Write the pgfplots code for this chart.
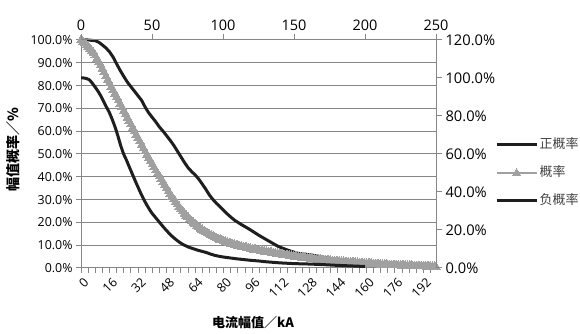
\documentclass[border=0pt]{standalone}
\usepackage{pgfplots}
\pgfplotsset{compat=1.18}
\usepackage{fontspec}
\setmainfont{Open Sans}
\newfontfamily\cjk{Noto Sans CJK SC}
\definecolor{axgray}{RGB}{134,134,134}
\definecolor{dk}{RGB}{30,30,30}
\definecolor{gr}{RGB}{160,160,160}
\begin{document}
\begin{tikzpicture}[x=1pt,y=1pt]
\useasboundingbox (0,0) rectangle (580,334);
\begin{axis}[
 at={(81pt,66pt)}, anchor=south west,
 scale only axis, width=355pt, height=228pt,
 xmin=0, xmax=199, ymin=0, ymax=1,
 axis x line*=bottom, axis y line*=left,
 axis line style={draw=axgray, line width=1pt, -},
 xtick={0,16,...,192},
 xticklabels={0,16,32,48,64,80,96,112,128,144,160,176,192},
 minor xtick={0,4,...,196},
 xticklabel style={rotate=45, anchor=north east, font=\fontsize{12.5}{14}\selectfont, inner sep=1pt, yshift=-3pt},
 ytick={0,0.1,0.2,0.3,0.4,0.5,0.6,0.7,0.8,0.9,1},
 yticklabels={0.0\%,10.0\%,20.0\%,30.0\%,40.0\%,50.0\%,60.0\%,70.0\%,80.0\%,90.0\%,100.0\%},
 yticklabel style={font=\fontsize{12.4}{14}\selectfont},
 ymajorgrids, major grid style={draw=axgray, line width=1pt},
 tick align=outside, major tick length=5pt, minor tick length=5pt,
 tick style={draw=axgray, line width=1pt},
 minor tick style={draw=axgray, line width=1pt},
 clip=false,
 xlabel={\cjk\bfseries 电流幅值／kA},
 xlabel style={at={(axis description cs:0.4845,-0.241)}, anchor=center, font=\fontsize{13}{15}\selectfont},
 ylabel={\cjk\bfseries 幅值概率／\%},
 ylabel style={at={(axis description cs:-0.1915,0.518)}, anchor=center, font=\fontsize{14}{16}\selectfont},
]
% 正概率
\addplot[dk, line width=3pt, line join=round] coordinates {
(0,1.000) (4,1.000) (8,0.997) (10,0.990) (12,0.978) (14,0.965) (16,0.948) (18,0.925)
(20,0.895) (22,0.866) (24,0.840) (26,0.815) (28,0.795) (30,0.775) (32,0.755) (34,0.735)
(36,0.705) (38,0.680) (40,0.660) (42,0.640) (44,0.618) (46,0.600) (48,0.580) (50,0.560)
(52,0.538) (54,0.513) (56,0.488) (58,0.463) (60,0.440) (62,0.423) (64,0.408) (66,0.390)
(68,0.368) (70,0.345) (72,0.320) (74,0.300) (76,0.283) (78,0.268) (80,0.252) (82,0.237)
(84,0.223) (86,0.210) (88,0.200) (90,0.190) (92,0.181) (94,0.172) (96,0.162) (98,0.152)
(100,0.142) (102,0.133) (104,0.124) (106,0.115) (108,0.106) (110,0.097) (112,0.090)
(114,0.084) (116,0.078) (118,0.073) (120,0.068) (122,0.064) (124,0.062) (126,0.060)
(128,0.058) (130,0.056) (132,0.053) (134,0.050) (136,0.047) (140,0.040) (144,0.034)
(148,0.029) (152,0.025) (156,0.021) (160,0.018)};
% 概率
\addplot[gr, line width=2.5pt, mark=triangle*, mark size=5pt, mark options={fill=gr, draw=gr, line width=0pt}] table[row sep=\\] {
x y\\
0 1.000\\ 1 0.993\\ 2 0.985\\ 3 0.977\\ 4 0.970\\ 5 0.962\\ 6 0.953\\ 7 0.944\\ 8 0.932\\ 9 0.918\\
10 0.904\\ 11 0.890\\ 12 0.874\\ 13 0.858\\ 14 0.842\\ 15 0.826\\ 16 0.810\\ 17 0.795\\ 18 0.780\\ 19 0.765\\
20 0.750\\ 21 0.735\\ 22 0.720\\ 23 0.705\\ 24 0.690\\ 25 0.675\\ 26 0.660\\ 27 0.645\\ 28 0.630\\ 29 0.615\\
30 0.600\\ 31 0.585\\ 32 0.570\\ 33 0.555\\ 34 0.540\\ 35 0.525\\ 36 0.511\\ 37 0.497\\ 38 0.483\\ 39 0.469\\
40 0.455\\ 41 0.441\\ 42 0.428\\ 43 0.415\\ 44 0.402\\ 45 0.389\\ 46 0.377\\ 47 0.365\\ 48 0.351\\ 49 0.337\\
50 0.325\\ 51 0.313\\ 52 0.301\\ 53 0.290\\ 54 0.279\\ 55 0.268\\ 56 0.258\\ 57 0.248\\ 58 0.239\\ 59 0.230\\
60 0.222\\ 61 0.214\\ 62 0.206\\ 63 0.199\\ 64 0.192\\ 65 0.185\\ 66 0.179\\ 67 0.173\\ 68 0.167\\ 69 0.162\\
70 0.157\\ 71 0.152\\ 72 0.147\\ 73 0.143\\ 74 0.139\\ 75 0.135\\ 76 0.131\\ 77 0.127\\ 78 0.124\\ 79 0.121\\
80 0.118\\ 81 0.115\\ 82 0.112\\ 83 0.109\\ 84 0.107\\ 85 0.104\\ 86 0.102\\ 87 0.100\\ 88 0.098\\ 89 0.096\\
90 0.094\\ 91 0.092\\ 92 0.090\\ 93 0.088\\ 94 0.086\\ 95 0.084\\ 96 0.083\\ 97 0.081\\ 98 0.080\\ 99 0.078\\
100 0.077\\ 101 0.075\\ 102 0.074\\ 103 0.072\\ 104 0.071\\ 105 0.069\\ 106 0.068\\ 107 0.066\\ 108 0.065\\ 109 0.064\\
110 0.062\\ 111 0.061\\ 112 0.060\\ 113 0.059\\ 114 0.057\\ 115 0.056\\ 116 0.055\\ 117 0.054\\ 118 0.053\\ 119 0.052\\
120 0.050\\ 121 0.049\\ 122 0.048\\ 123 0.047\\ 124 0.046\\ 125 0.045\\ 126 0.044\\ 127 0.043\\ 128 0.042\\ 129 0.041\\
130 0.040\\ 131 0.039\\ 132 0.038\\ 133 0.037\\ 134 0.036\\ 135 0.035\\ 136 0.034\\ 137 0.033\\ 138 0.032\\ 139 0.032\\
140 0.031\\ 141 0.030\\ 142 0.030\\ 143 0.029\\ 144 0.029\\ 145 0.028\\ 146 0.027\\ 147 0.027\\ 148 0.026\\ 149 0.026\\
150 0.025\\ 151 0.024\\ 152 0.024\\ 153 0.023\\ 154 0.023\\ 155 0.022\\ 156 0.021\\ 157 0.021\\ 158 0.020\\ 159 0.020\\
160 0.019\\ 161 0.019\\ 162 0.018\\ 163 0.018\\ 164 0.017\\ 165 0.017\\ 166 0.016\\ 167 0.016\\ 168 0.015\\ 169 0.015\\
170 0.014\\ 171 0.014\\ 172 0.013\\ 173 0.013\\ 174 0.013\\ 175 0.012\\ 176 0.012\\ 177 0.011\\ 178 0.011\\ 179 0.011\\
180 0.010\\ 181 0.010\\ 182 0.010\\ 183 0.009\\ 184 0.009\\ 185 0.009\\ 186 0.008\\ 187 0.008\\ 188 0.008\\ 189 0.008\\
190 0.007\\ 191 0.007\\ 192 0.007\\ 193 0.007\\ 194 0.006\\ 195 0.006\\ 196 0.006\\ 197 0.006\\ 198 0.005\\ 199 0.005\\
};
\end{axis}
\begin{axis}[
 at={(81pt,66pt)}, anchor=south west,
 scale only axis, width=355pt, height=228pt,
 xmin=0, xmax=250, ymin=0, ymax=1.2,
 axis x line*=top, axis y line*=right,
 axis line style={draw=axgray, line width=1pt, -},
 xtick={0,50,100,150,200,250},
 xticklabels={0,50,100,150,200,250},
 xticklabel style={font=\fontsize{14.5}{16}\selectfont},
 ytick={0,0.2,0.4,0.6,0.8,1,1.2},
 yticklabels={0.0\%,20.0\%,40.0\%,60.0\%,80.0\%,100.0\%,120.0\%},
 yticklabel style={font=\fontsize{14.7}{16}\selectfont},
 tick align=outside, major tick length=6pt,
 tick style={draw=axgray, line width=1pt},
 clip=false,
 legend cell align=left,
 legend image code/.code={\draw[mark repeat=2,mark phase=2,#1] plot coordinates {(0pt,0pt) (20pt,0pt) (40pt,0pt)};},
 legend style={at={(axis description cs:1.166,0.4167)}, anchor=west, draw=none, fill=none,
   font=\cjk\fontsize{13}{15}\selectfont, text=dk!85, row sep=12pt, inner sep=0pt,
   nodes={inner sep=1.5pt, text height=10pt, text depth=3pt}},
]
\addlegendimage{dk, line width=3pt}
\addlegendentry{正概率}
\addlegendimage{gr, line width=1.5pt, mark=triangle*, mark size=4.5pt, mark options={fill=gr, draw=gr, line width=0pt}}
\addlegendentry{概率}
% 负概率
\addplot[dk, line width=3pt, line join=round] coordinates {
(0,1.000) (2,1.000) (4,0.997) (6,0.990) (8,0.972) (10,0.952) (12,0.930) (14,0.905)
(16,0.875) (18,0.846) (20,0.818) (22,0.782) (24,0.742) (26,0.695) (28,0.643) (30,0.600)
(32,0.568) (34,0.532) (36,0.497) (38,0.462) (40,0.428) (42,0.395) (44,0.364) (46,0.336)
(48,0.311) (50,0.288) (52,0.270) (54,0.252) (56,0.234) (58,0.216) (60,0.199) (62,0.183)
(64,0.168) (66,0.155) (68,0.143) (70,0.132) (72,0.123) (74,0.116) (76,0.109) (78,0.104)
(80,0.099) (82,0.094) (85,0.088) (88,0.082) (91,0.074) (94,0.067) (97,0.062) (100,0.058)
(105,0.053) (110,0.048) (115,0.044) (120,0.040) (125,0.037) (130,0.033) (135,0.030)
(140,0.027) (145,0.025) (150,0.023) (155,0.022) (160,0.021) (170,0.018) (180,0.014)
(190,0.011) (200,0.008)};
\addlegendentry{负概率}
\end{axis}
\end{tikzpicture}
\end{document}
